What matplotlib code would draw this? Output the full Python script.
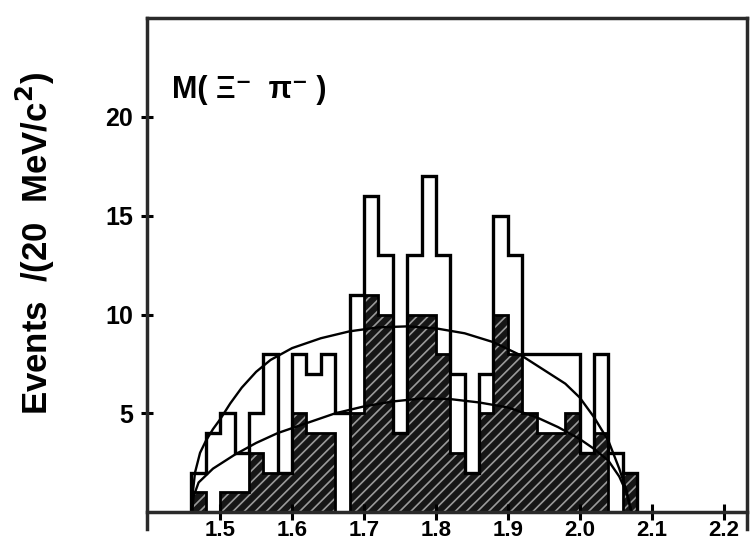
import matplotlib
matplotlib.use("Agg")
import matplotlib.pyplot as plt
import numpy as np

# bin edges (GeV), 20 MeV bins
edges = np.round(np.arange(1.46, 2.0801, 0.02), 2)

# all events (open histogram)
counts_all = [2, 4, 5, 3, 5, 8, 2, 8, 7, 8, 5, 11, 16, 13, 4, 13,
              17, 13, 7, 2, 7, 15, 13, 8, 8, 8, 8, 3, 8, 3, 2]
# selected events (hatched histogram)
counts_sel = [1, 0, 1, 1, 3, 2, 2, 5, 4, 4, 0, 5, 11, 10, 4, 10,
              10, 8, 3, 2, 5, 10, 8, 5, 4, 4, 5, 3, 4, 0, 2]

# phase-space curves
ps_all_m = [1.461, 1.462, 1.465, 1.472, 1.480, 1.490, 1.500, 1.514, 1.530,
            1.550, 1.570, 1.600, 1.640, 1.680, 1.720, 1.760, 1.800, 1.840,
            1.880, 1.920, 1.950, 1.980, 2.000, 2.020, 2.040, 2.055, 2.065,
            2.072]
ps_all_n = [0.0, 1.0, 2.0, 3.0, 3.6, 4.2, 4.7, 5.5, 6.3,
            7.1, 7.7, 8.3, 8.8, 9.15, 9.35, 9.4, 9.3, 9.05,
            8.6, 7.9, 7.2, 6.5, 5.8, 4.8, 3.6, 2.2, 1.1,
            0.0]
ps_sel_m = [1.461, 1.463, 1.470, 1.490, 1.520, 1.550, 1.580, 1.620, 1.660,
            1.700, 1.740, 1.780, 1.820, 1.860, 1.900, 1.940, 1.970, 2.000,
            2.020, 2.040, 2.055, 2.065, 2.072]
ps_sel_n = [0.0, 0.8, 1.5, 2.2, 2.9, 3.5, 4.0, 4.5, 5.0,
            5.35, 5.6, 5.75, 5.72, 5.55, 5.3, 4.8, 4.3, 3.7,
            3.2, 2.6, 1.8, 1.0, 0.0]

xticks = [1.5, 1.6, 1.7, 1.8, 1.9, 2.0, 2.1, 2.2]
xticklabels = ["1.5", "1.6", "1.7", "1.8", "1.9", "2.0", "2.1", "2.2"]
yticks = [5, 10, 15, 20]

plt.rcParams["font.family"] = ["Liberation Sans", "DejaVu Sans"]
plt.rcParams["font.weight"] = "bold"
plt.rcParams["hatch.linewidth"] = 1.2
plt.rcParams["hatch.color"] = "#9a9a9a"

fig = plt.figure(figsize=(7.51, 5.50), dpi=100)
ax = fig.add_axes([0.196, 0.038, 0.799, 0.929])

# hatched histogram
ax.stairs(counts_sel, edges, fill=True, facecolor="#161616",
          edgecolor="#9a9a9a", hatch="///", linewidth=0)
ax.stairs(counts_sel, edges, color="black", linewidth=2.0)
# open histogram
ax.stairs(counts_all, edges, color="black", linewidth=2.4)

# curves
ax.plot(ps_all_m, ps_all_n, color="black", linewidth=1.7)
ax.plot(ps_sel_m, ps_sel_n, color="black", linewidth=1.7)

ax.set_xlim(1.3985, 2.233)
ax.set_ylim(-0.86, 25)

ax.spines["bottom"].set_position(("data", 0))
for side in ["left", "top", "right", "bottom"]:
    ax.spines[side].set_linewidth(2.5)
    ax.spines[side].set_color("#2a2a2a")

ax.set_xticks(xticks)
ax.set_xticklabels(xticklabels)
ax.set_yticks(yticks)
ax.tick_params(axis="x", direction="inout", length=12, width=2.2,
               labelsize=16, pad=0)
ax.tick_params(axis="y", direction="inout", length=8, width=2.2,
               labelsize=18, pad=6)

ax.text(0.042, 0.859, "M( Ξ⁻  π⁻ )", transform=ax.transAxes,
        fontsize=22, fontweight="bold", ha="left", va="center")

fig.text(0.047, 0.245, "Events  /(20  MeV/c$^\\mathbf{2}$)", rotation=90,
         fontsize=25, fontweight="bold", ha="center", va="bottom")

fig.savefig("out.png", dpi=100, facecolor="white")
